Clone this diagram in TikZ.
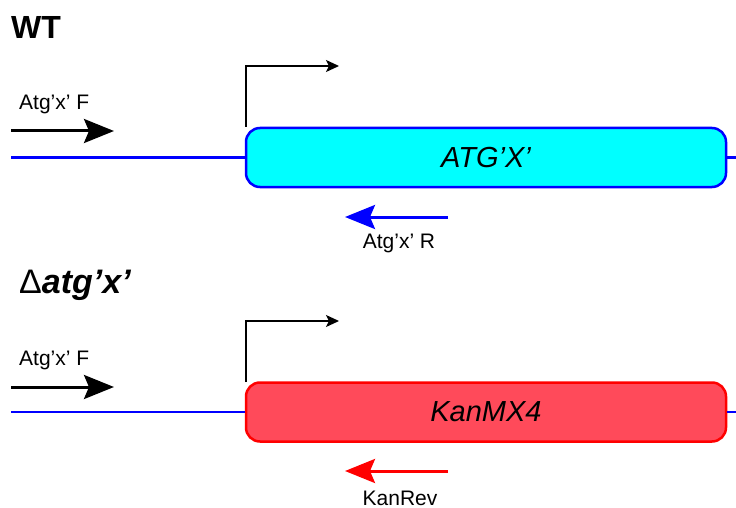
\documentclass[tikz,border=0pt]{standalone}
\usepackage{fontspec}
\setmainfont{Liberation Sans}
\usetikzlibrary{arrows.meta}
\definecolor{genecyan}{RGB}{0,255,255}
\definecolor{kanfill}{RGB}{255,74,90}
\begin{document}
\begin{tikzpicture}[x=1pt,y=-1pt,
  gene/.style={draw, line width=2.5pt, rounded corners=14pt, minimum width=480pt, minimum height=59pt, inner sep=0pt, font=\fontsize{29}{34}\selectfont\itshape},
  dna/.style={blue, line width=2.5pt},
  primer/.style={line width=3pt, -{Stealth[length=30pt,width=24pt,inset=5pt]}},
  prom/.style={line width=1.3pt, -{Stealth[length=13pt,width=12pt,inset=3pt]}},
  lbl/.style={font=\fontsize{21}{25}\selectfont, inner sep=0pt},
  ttl/.style={font=\fontsize{32}{38}\selectfont\bfseries, inner sep=0pt, anchor=west}]
\useasboundingbox (0,0) rectangle (736,508);

% ---------- WT ----------
\node[ttl] (wt) at (11,27) {WT};
\node[gene, draw=blue, fill=genecyan] (g1) at (486,157.5) {ATG’X’};
\coordinate (d1l) at (11,157.5);
\coordinate (d1r) at (736,157.5);
\draw[dna] (d1l) -- (g1.west);
\draw[dna] (g1.east) -- (d1r);
\coordinate (p1s) at (246,127);
\coordinate (p1e) at (339,66);
\draw[prom] (p1s) |- (p1e);
\coordinate (f1s) at (11,131);
\coordinate (f1e) at (114,131);
\draw[primer, black] (f1s) -- (f1e);
\node[lbl, anchor=west] (f1l) at (19,104) {Atg’x’ F};
\coordinate (r1s) at (448,217);
\coordinate (r1e) at (345,217);
\draw[primer, blue] (r1s) -- (r1e);
\node[lbl] (r1l) at (399,243) {Atg’x’ R};

% ---------- delta ----------
\node[ttl, font=\fontsize{34}{40}\selectfont\bfseries] (dt) at (19,285) {{\mdseries Δ}\textit{atg’x’}};
\node[gene, draw=red, fill=kanfill] (g2) at (486,412) {KanMX4};
\coordinate (d2l) at (11,412);
\coordinate (d2r) at (736,412);
\draw[dna] (d2l) -- (g2.west);
\draw[dna] (g2.east) -- (d2r);
\coordinate (p2s) at (246,382);
\coordinate (p2e) at (339,321);
\draw[prom] (p2s) |- (p2e);
\coordinate (f2s) at (11,387);
\coordinate (f2e) at (114,387);
\draw[primer, black] (f2s) -- (f2e);
\node[lbl, anchor=west] (f2l) at (19,360) {Atg’x’ F};
\coordinate (r2s) at (448,471);
\coordinate (r2e) at (345,471);
\draw[primer, red] (r2s) -- (r2e);
\node[lbl] (r2l) at (400,498) {KanRev};
\end{tikzpicture}
\end{document}
